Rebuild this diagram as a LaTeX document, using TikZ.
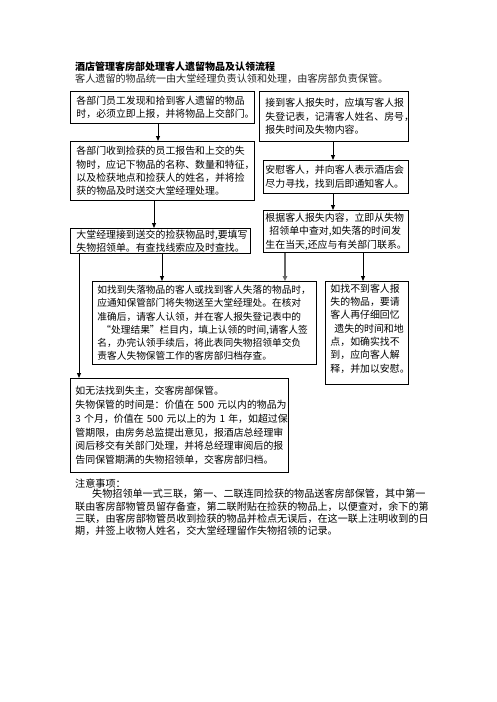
\documentclass[tikz,border=0pt]{standalone}
\usepackage{fontspec}
\setmainfont{Noto Sans CJK SC}
\usetikzlibrary{arrows.meta,calc}
\begin{document}
\begin{tikzpicture}[x=1pt,y=-1pt,
  box/.style={draw, line width=0.9pt, anchor=north west, align=left,
    inner xsep=6pt, inner ysep=1pt, font=\fontsize{9.9}{13.3}\selectfont},
  arr/.style={-{Triangle[length=5pt,width=4pt]}, line width=0.9pt},
  garr/.style={-{Triangle[length=5pt,width=4.5pt]}, line width=1.6pt, draw=black!60, fill=black!60},
  plain/.style={anchor=west, inner sep=0pt, align=left}]
\useasboundingbox[fill=white] (0,0) rectangle (496,702);

\node[plain, font=\fontsize{10}{12}\selectfont\bfseries] (title) at (75,67) {酒店管理客房部处理客人遗留物品及认领流程};
\node[plain, font=\fontsize{10.1}{12}\selectfont, text=black!85] (sub) at (75,78.5) {客人遗留的物品统一由大堂经理负责认领和处理，由客房部负责保管。};

\node[box, minimum width=184pt, minimum height=32pt, text width=172pt] (A) at (70,91)
 {各部门员工发现和拾到客人遗留的物品\\时，必须立即上报，并将物品上交部门。};
\node[box, minimum width=149pt, minimum height=50pt, text width=137pt] (B) at (259,91)
 {接到客人报失时，应填写客人报\\失登记表，记清客人姓名、房号，\\报失时间及失物内容。};
\node[box, minimum width=184pt, minimum height=59pt, text width=172pt] (C) at (70,141)
 {各部门收到捡获的员工报告和上交的失\\物时，应记下物品的名称、数量和特征，\\以及检获地点和捡获人的姓名，并将捡\\获的物品及时送交大堂经理处理。};
\node[box, inner xsep=2pt, minimum width=145pt, minimum height=33pt, text width=141pt] (D) at (263,160)
 {安慰客人，并向客人表示酒店会\\尽力寻找，找到后即通知客人。};
\node[box, inner xsep=2pt, minimum width=145pt, minimum height=42pt, text width=141pt] (E) at (263,210)
 {根据客人报失内容，立即从失物\\\hspace*{4pt}招领单中查对,如失落的时间发\\生在当天,还应与有关部门联系。};
\node[box, minimum width=180pt, minimum height=25pt, text width=168pt] (F) at (70,228)
 {大堂经理接到送交的捡获物品时,要填写\\失物招领单。有查找线索应及时查找。};
\node[box, inner xsep=5pt, minimum width=224pt, minimum height=83pt, text width=214pt,
  font=\fontsize{9.7}{13.3}\selectfont] (G) at (92,281)
 {如找到失落物品的客人或找到客人失落的物品时，\\应通知保管部门将失物送至大堂经理处。在核对\\准确后，请客人认领，并在客人报失登记表中的\\\hspace*{4pt}“处理结果”栏目内，填上认领的时间,请客人签\\名，办完认领手续后，将此表同失物招领单交负\\责客人失物保管工作的客房部归档存查。};
\node[box, inner xsep=5pt, minimum width=83pt, minimum height=103pt, text width=73pt] (H) at (325,281)
 {如找不到客人报\\失的物品，要请\\客人再仔细回忆\\\hspace*{4pt}遗失的时间和地\\点，如确实找不\\到，应向客人解\\释，并加以安慰。\\[-3.3pt]\mbox{}};
\node[box, inner xsep=5pt, minimum width=218pt, minimum height=94pt, text width=208pt,
  font=\fontsize{9.9}{13.9}\selectfont] (I) at (70,378)
 {如无法找到失主，交客房部保管。\\失物保管的时间是：价值在~500~元以内的物品为\\3~个月，价值在~500~元以上的为~1~年，如超过保\\管期限，由房务总监提出意见，报酒店总经理审\\阅后移交有关部门处理，并将总经理审阅后的报\\告同保管期满的失物招领单，交客房部归档。};

\draw[arr] ($(A.south west)+(88,0)$) -- ($(A.south west |- C.north)+(88,0)$);
\draw[arr] ($(C.south west)+(84,0)$) -- ($(C.south west |- F.north)+(84,0)$);
\draw[arr] ($(F.south west)+(92,0)$) -- ($(F.south west |- G.north)+(92,0)$);
\draw[arr] ($(F.south west)+(9,0)$) -- ($(F.south west |- I.north)+(9,0)$);
\draw[arr] ($(B.south west)+(74,0)$) -- ($(B.south west |- D.north)+(74,0)$);
\draw[arr] ($(D.south west)+(70,0)$) -- ($(D.south west |- E.north)+(70,0)$);
\draw[garr] ($(E.south west)+(22,0)$) -- ($(E.south west |- G.north)+(22,0)$);
\draw[arr] ($(E.south west)+(100,0)$) -- ($(E.south west |- H.north)+(100,0)$);

\node[plain, font=\fontsize{10.1}{12.4}\selectfont] (notes) at (75,483.5) {注意事项：};
\node[plain, anchor=north west, font=\fontsize{10.1}{12.4}\selectfont] (para) at (75,489)
 {\hspace*{17pt}失物招领单一式三联，第一、二联连同捡获的物品送客房部保管，其中第一\\联由客房部物管员留存备查，第二联附贴在捡获的物品上，以便查对，余下的第\\三联，由客房部物管员收到捡获的物品并检点无误后，在这一联上注明收到的日\\期，并签上收物人姓名，交大堂经理留作失物招领的记录。};
\end{tikzpicture}
\end{document}
